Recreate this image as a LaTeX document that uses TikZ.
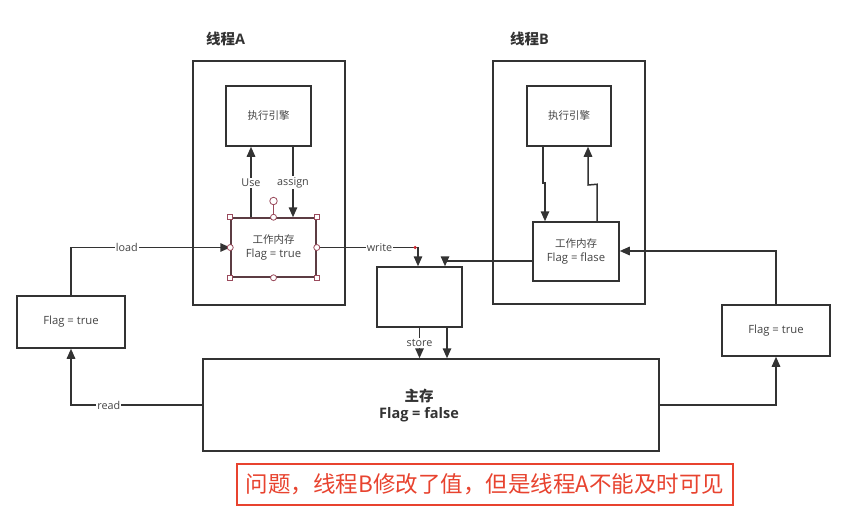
\documentclass[tikz,border=0pt]{standalone}
\usepackage{fontspec}
\setmainfont{Open Sans}
\newfontfamily\cjk{Noto Sans CJK SC}
\newcommand\cjksmall[1]{{\cjk\fontsize{10.5}{13.3}\selectfont #1}}
\usetikzlibrary{arrows.meta}
\definecolor{ln}{HTML}{333333}
\definecolor{tx}{HTML}{444444}
\definecolor{hd}{HTML}{9A4A5C}
\definecolor{nred}{HTML}{E8432F}
\begin{document}
\begin{tikzpicture}[x=1pt,y=-1pt,
 box/.style={draw=ln, line width=1.5pt, inner sep=0pt, fill=white, rectangle},
 small/.style={font=\fontsize{11.3}{13.3}\selectfont, text=tx, align=center},
 arr/.style={draw=ln, line width=1.5pt, -{Triangle[length=10pt,width=8.5pt]}},
 lbl/.style={fill=white, inner sep=1pt, font=\fontsize{10.8}{12}\selectfont, text=tx},
 hsq/.style={draw=hd, fill=white, line width=0.8pt, minimum size=5pt, inner sep=0pt, rectangle},
 hci/.style={draw=hd, fill=white, circle, line width=0.8pt, minimum size=6pt, inner sep=0pt},
 title/.style={font=\bfseries\fontsize{14.5}{17}\selectfont, text=ln},
]
\useasboundingbox[fill=white] (0,0) rectangle (853,517);

% thread containers
\node[box, minimum width=152pt, minimum height=244pt] (thA) at (269,183) {};
\node[box, minimum width=152pt, minimum height=243pt] (thB) at (569,182.5) {};
\node[title] (tA) at (225.5,39) {{\cjk 线程}A};
\node[title] (tB) at (529.5,39) {{\cjk 线程}B};

% execution engines
\node[box, small, minimum width=85pt, minimum height=60pt] (engA) at (268.5,116) {\cjksmall{执行引擎}};
\node[box, small, minimum width=84pt, minimum height=60pt] (engB) at (569,116) {\cjksmall{执行引擎}};

% working memories
\node[box, small, draw=ln!60!hd, minimum width=85pt, minimum height=59pt] (wmA) at (273.5,247.5) {\cjksmall{工作内存}\\Flag = true};
\node[box, small, minimum width=86pt, minimum height=59pt] (wmB) at (576,251.5) {\cjksmall{工作内存}\\Flag = flase};

% other boxes
\node[box, small, minimum width=108pt, minimum height=52pt] (flagL) at (71,322) {Flag = true};
\node[box, small, minimum width=108pt, minimum height=51pt] (flagR) at (776,330.5) {Flag = true};
\node[box, minimum width=85pt, minimum height=60pt] (mid) at (419.5,297) {};
\node[box, minimum width=456pt, minimum height=92pt] (main) at (431,405) {};
\node[font=\bfseries\fontsize{14.5}{17}\selectfont, text=ln, align=center] (mainT) at (419,405) {{\cjk 主存}\\Flag = false};

% thread A internal
\draw[arr] ([xshift=-22.5pt]wmA.north) -- ([xshift=-17.5pt]engA.south) node[lbl, pos=0.49] (use) {Use};
\draw[arr] ([xshift=24.5pt]engA.south) -- ([xshift=19.5pt]wmA.north) node[lbl, pos=0.51] (assign) {assign};

% thread B internal
\coordinate (b1) at (543,183);
\coordinate (b2) at (588,185);
\draw[arr] ([xshift=-26pt]engB.south) -- (b1) -- ++(2,0) -- ([xshift=-31pt]wmB.north);
\draw[arr] ([xshift=21pt]wmB.north) -- ++(0,-37) -- (b2) -- ([xshift=19pt]engB.south);

% load / read
\draw[arr] (flagL.north) |- (wmA.west) node[lbl, pos=0.675] (load) {load};
\draw[arr] (main.west) -| (flagL.south) node[lbl, pos=0.356] (read) {read};

% write
\draw[arr] (wmA.east) -| ([xshift=-1.5pt]mid.north) node[lbl, pos=0.31] (write) {write};
\draw[arr] ([yshift=-9.5pt]wmB.west) -| ([xshift=25.5pt]mid.north);

% store
\draw[arr] (mid.south) -- (mid.south |- main.north) node[lbl, pos=0.5] (store) {store};
\draw[arr] ([xshift=27.5pt]mid.south) -- ([xshift=27.5pt]mid.south |- main.north);

% right side
\draw[arr] (main.east) -| (flagR.south);
\draw[arr] (flagR.north) |- ([yshift=0.5pt]wmB.east);

% selection handles on wmA
\node[hsq] (h1) at (wmA.north west) {};
\node[hsq] (h2) at (wmA.north east) {};
\node[hsq] (h3) at (wmA.south west) {};
\node[hsq] (h4) at (wmA.south east) {};
\node[hci] (h5) at (wmA.west) {};
\node[hci] (h6) at (wmA.east) {};
\node[hci] (h7) at (wmA.north) {};
\node[hci] (h8) at (wmA.south) {};
\node[hci, minimum size=7.5pt] (rot) at (273.5,201) {};
\draw[hd, line width=0.8pt] (rot) -- (h7);
\node[circle, fill=hd!50!red, inner sep=0pt, minimum size=3.5pt] (dot) at (415,247.5) {};

% note
\node[draw=nred, line width=1.2pt, minimum width=496pt, minimum height=41pt, inner sep=0pt,
      text=nred, font=\cjk\fontsize{22.5}{26}\selectfont] (note) at (485,484.5) {问题，线程B修改了值，但是线程A不能及时可见};
\end{tikzpicture}
\end{document}
